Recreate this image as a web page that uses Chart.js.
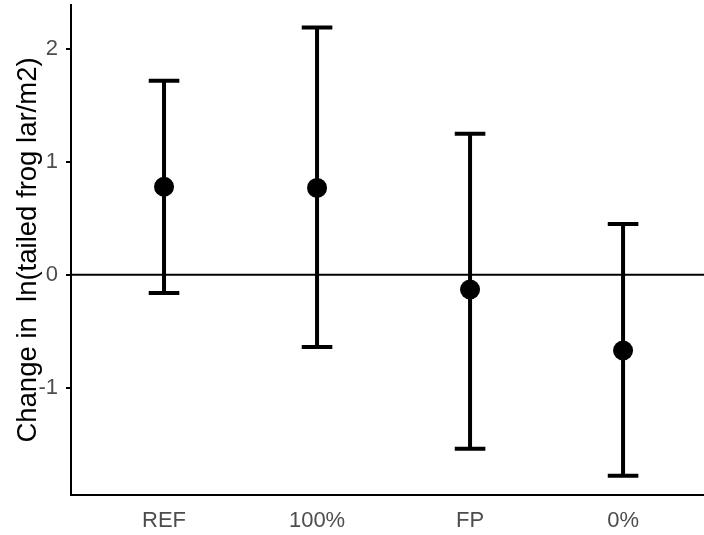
<!DOCTYPE html>
<html>
<head>
<meta charset="utf-8">
<script src="https://cdn.jsdelivr.net/npm/chart.js@4.4.1/dist/chart.umd.min.js"></script>
<style>
  html, body { margin: 0; padding: 0; background: #fff; }
  #wrap { width: 704px; height: 535px; }
</style>
</head>
<body>
<div id="wrap"><canvas id="chart" width="704" height="535"></canvas></div>
<script>
// Data
const categories = ['REF', '100%', 'FP', '0%'];
const means = [0.78, 0.77, -0.13, -0.67];
const lowers = [-0.16, -0.64, -1.54, -1.78];
const uppers = [1.72, 2.19, 1.25, 0.45];
const yTicks = [-1, 0, 1, 2];

const FONT = "'Liberation Sans', Arial, sans-serif";

// error bars + zero reference line, drawn under the points
const errorBarPlugin = {
    id: 'errorBars',
    beforeDatasetsDraw(chart) {
        const { ctx, chartArea, scales: { x, y } } = chart;
        ctx.save();
        ctx.strokeStyle = '#000';

        // horizontal line at 0
        const y0 = y.getPixelForValue(0);
        ctx.lineWidth = 2;
        ctx.beginPath();
        ctx.moveTo(chartArea.left, y0);
        ctx.lineTo(chartArea.right, y0);
        ctx.stroke();

        ctx.lineWidth = 4;
        ctx.lineCap = 'butt';
        categories.forEach((c, i) => {
            const xc = x.getPixelForValue(i + 1);
            const xl = x.getPixelForValue(i + 1 - 0.1);
            const xr = x.getPixelForValue(i + 1 + 0.1);
            const yl = y.getPixelForValue(lowers[i]);
            const yu = y.getPixelForValue(uppers[i]);
            ctx.beginPath();
            ctx.moveTo(xc, yl);
            ctx.lineTo(xc, yu);
            ctx.moveTo(xl, yu);
            ctx.lineTo(xr, yu);
            ctx.moveTo(xl, yl);
            ctx.lineTo(xr, yl);
            ctx.stroke();
        });
        ctx.restore();
    }
};

new Chart(document.getElementById('chart'), {
    type: 'scatter',
    data: {
        datasets: [{
            data: means.map((m, i) => ({ x: i + 1, y: m })),
            backgroundColor: '#000',
            borderWidth: 0,
            pointRadius: 10,
            pointHoverRadius: 10
        }]
    },
    options: {
        responsive: false,
        animation: false,
        devicePixelRatio: 1,
        layout: { autoPadding: false, padding: { top: 5, right: 0, left: 0, bottom: 0 } },
        plugins: {
            legend: { display: false },
            tooltip: { enabled: false }
        },
        scales: {
            x: {
                type: 'linear',
                min: 0.392,
                max: 4.529,
                afterBuildTicks: (scale) => {
                    scale.ticks = categories.map((c, i) => ({ value: i + 1 }));
                },
                afterFit: (scale) => {
                    scale.height = 40;
                    scale.paddingLeft = 0;
                    scale.paddingRight = 0;
                },
                ticks: {
                    callback: (v) => categories[v - 1] || '',
                    color: '#4d4d4d',
                    font: { family: FONT, size: 22 },
                    padding: 13,
                    maxRotation: 0,
                    autoSkip: false
                },
                grid: { display: false, drawTicks: false },
                border: { display: true, color: '#000', width: 2 }
            },
            y: {
                type: 'linear',
                min: -1.95,
                max: 2.39,
                afterBuildTicks: (scale) => {
                    scale.ticks = yTicks.map(v => ({ value: v }));
                },
                afterFit: (scale) => {
                    scale.width = 71;
                    scale.paddingTop = 0;
                    scale.paddingBottom = 0;
                },
                ticks: {
                    color: '#4d4d4d',
                    font: { family: FONT, size: 22 },
                    padding: 8
                },
                grid: {
                    drawOnChartArea: false,
                    drawTicks: true,
                    tickLength: 5,
                    color: '#000',
                    lineWidth: 2
                },
                border: { display: true, color: '#000', width: 2 },
                title: {
                    display: true,
                    text: 'Change in  ln(tailed frog lar/m2)',
                    color: '#000',
                    font: { family: FONT, size: 27.5 },
                    padding: { top: 12, bottom: 0 }
                }
            }
        }
    },
    plugins: [errorBarPlugin]
});
</script>
</body>
</html>
